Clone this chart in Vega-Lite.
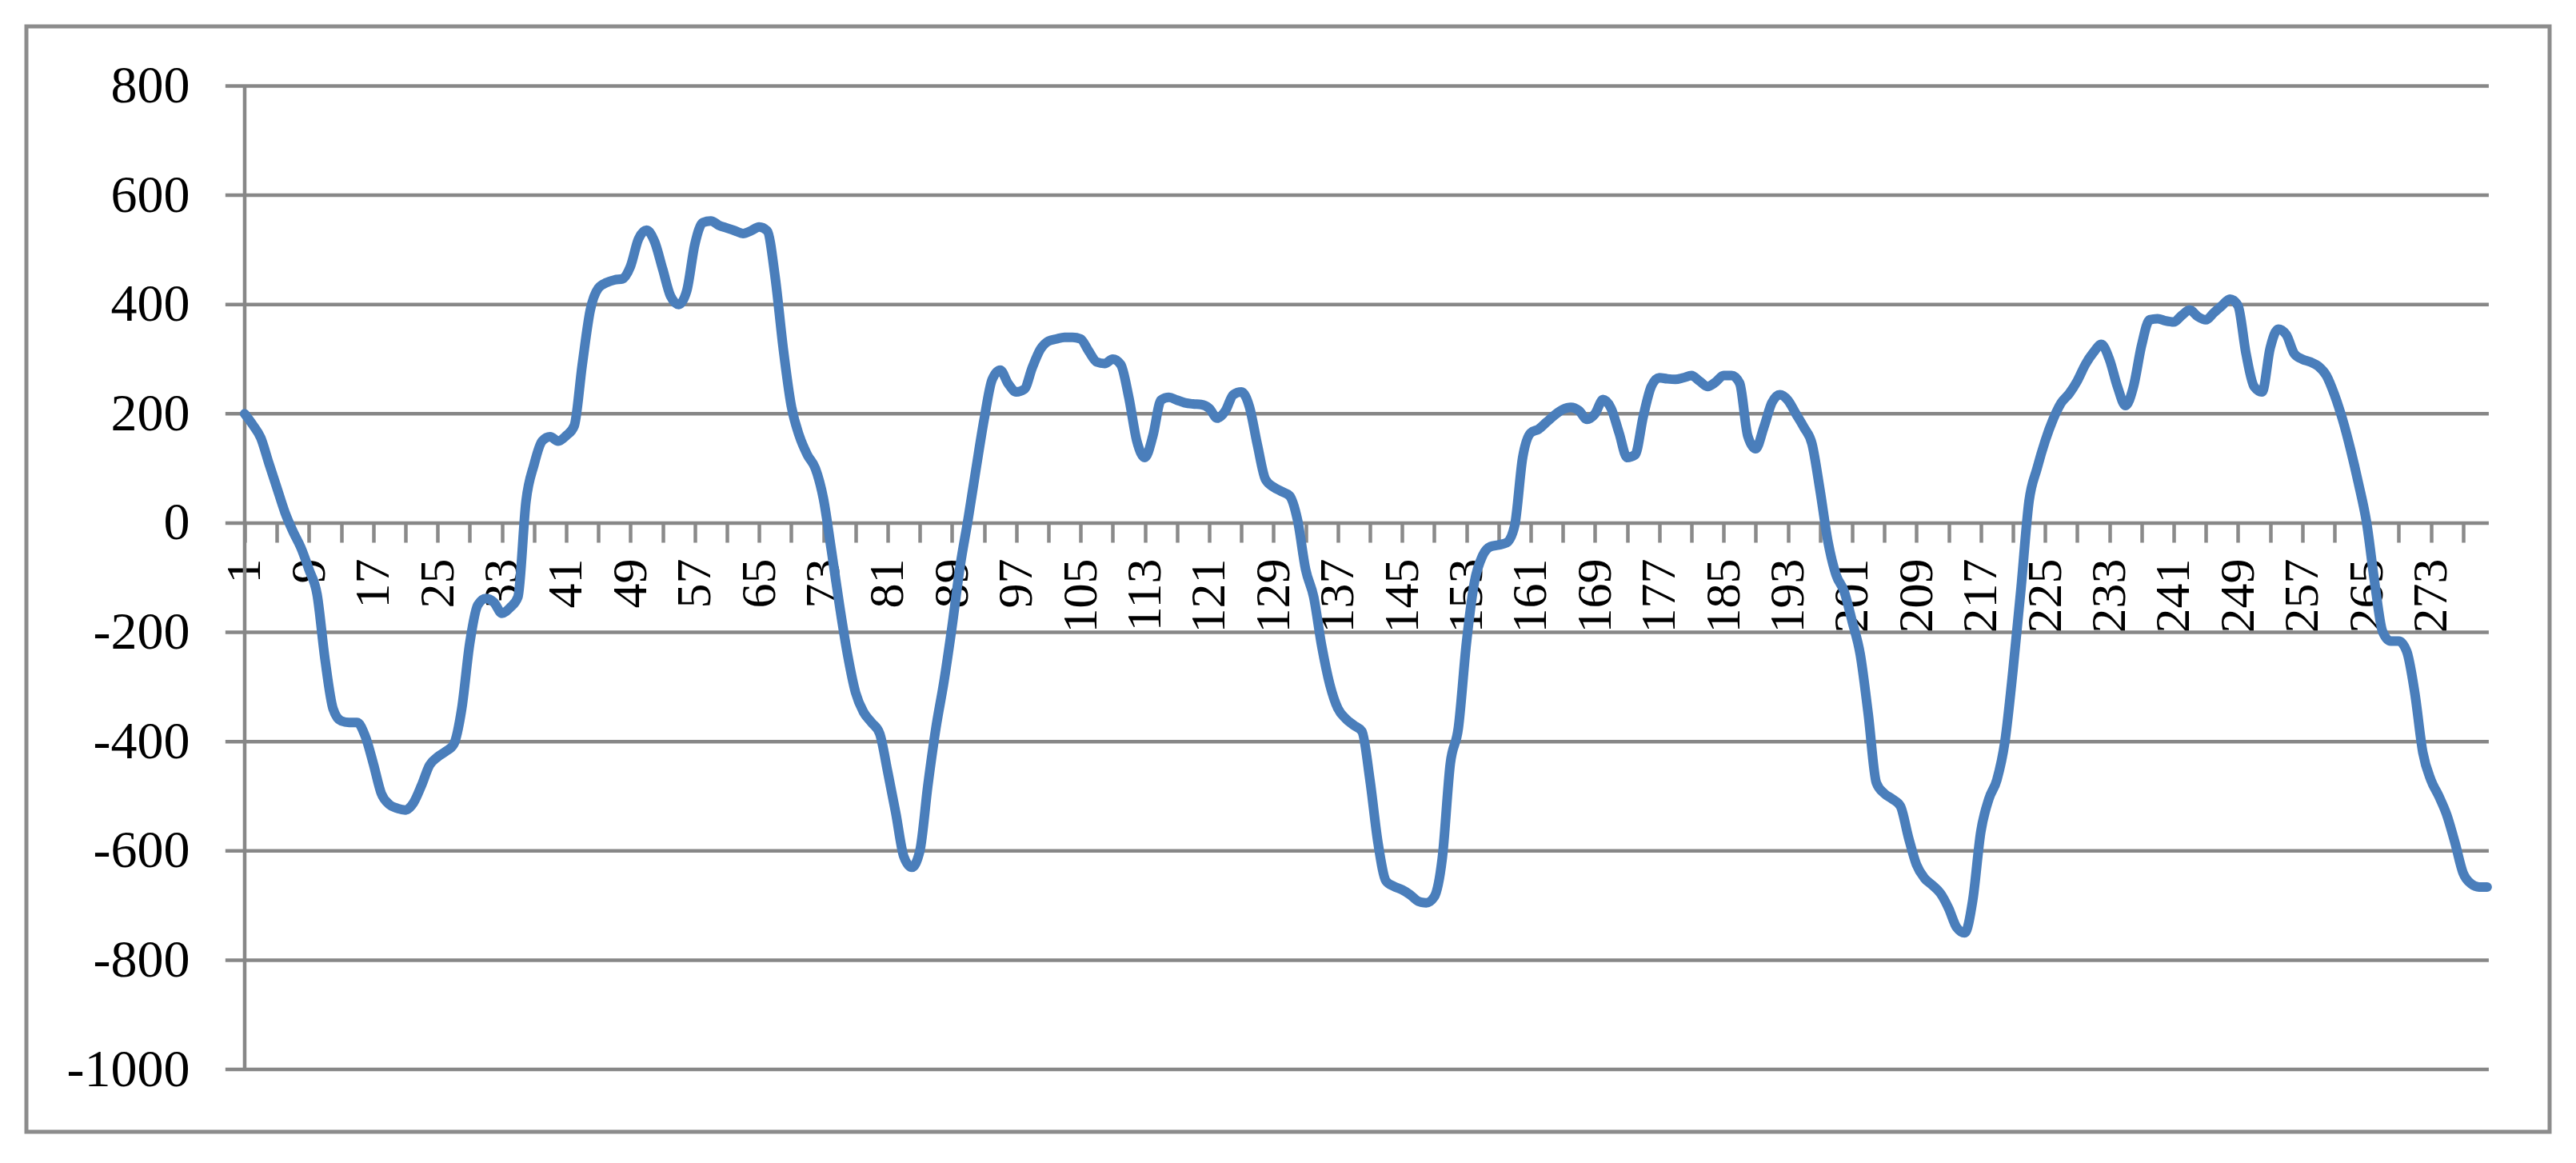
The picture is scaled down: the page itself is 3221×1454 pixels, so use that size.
{
  "$schema": "https://vega.github.io/schema/vega-lite/v6.json",
  "width": 3155,
  "height": 1382,
  "autosize": {"type": "none"},
  "padding": {"left": 33, "top": 33, "right": 33, "bottom": 39},
  "background": "white",
  "config": {
    "view": {"stroke": "#8c8c8c", "strokeWidth": 5},
    "font": "Liberation Serif"
  },
  "datasets": {
    "grid": [{"v": -1000}, {"v": -800}, {"v": -600}, {"v": -400}, {"v": -200}, {"v": 0}, {"v": 200}, {"v": 400}, {"v": 600}, {"v": 800}],
    "series": [
      {"i":1,"v":200},{"i":2,"v":180},{"i":3,"v":156},{"i":4,"v":110},{"i":5,"v":65},{"i":6,"v":20},{"i":7,"v":-15},{"i":8,"v":-45},{"i":9,"v":-85},{"i":10,"v":-130},
      {"i":11,"v":-250},{"i":12,"v":-340},{"i":13,"v":-362},{"i":14,"v":-365},{"i":15,"v":-365},{"i":16,"v":-390},{"i":17,"v":-440},{"i":18,"v":-495},{"i":19,"v":-515},{"i":20,"v":-522},
      {"i":21,"v":-525},{"i":22,"v":-512},{"i":23,"v":-480},{"i":24,"v":-443},{"i":25,"v":-428},{"i":26,"v":-418},{"i":27,"v":-405},{"i":28,"v":-340},{"i":29,"v":-220},{"i":30,"v":-150},
      {"i":31,"v":-138},{"i":32,"v":-145},{"i":33,"v":-165},{"i":34,"v":-155},{"i":35,"v":-135},{"i":36,"v":40},{"i":37,"v":107},{"i":38,"v":150},{"i":39,"v":158},{"i":40,"v":150},
      {"i":41,"v":160},{"i":42,"v":178},{"i":43,"v":290},{"i":44,"v":390},{"i":45,"v":430},{"i":46,"v":440},{"i":47,"v":445},{"i":48,"v":447},{"i":49,"v":470},{"i":50,"v":520},
      {"i":51,"v":536},{"i":52,"v":515},{"i":53,"v":465},{"i":54,"v":415},{"i":55,"v":400},{"i":56,"v":425},{"i":57,"v":510},{"i":58,"v":550},{"i":59,"v":553},{"i":60,"v":545},
      {"i":61,"v":540},{"i":62,"v":535},{"i":63,"v":530},{"i":64,"v":535},{"i":65,"v":542},{"i":66,"v":535},{"i":67,"v":450},{"i":68,"v":320},{"i":69,"v":215},{"i":70,"v":160},
      {"i":71,"v":125},{"i":72,"v":100},{"i":73,"v":45},{"i":74,"v":-50},{"i":75,"v":-150},{"i":76,"v":-240},{"i":77,"v":-310},{"i":78,"v":-346},{"i":79,"v":-365},{"i":80,"v":-385},
      {"i":81,"v":-455},{"i":82,"v":-530},{"i":83,"v":-610},{"i":84,"v":-630},{"i":85,"v":-600},{"i":86,"v":-480},{"i":87,"v":-375},{"i":88,"v":-290},{"i":89,"v":-190},{"i":90,"v":-80},
      {"i":91,"v":7},{"i":92,"v":100},{"i":93,"v":190},{"i":94,"v":263},{"i":95,"v":280},{"i":96,"v":255},{"i":97,"v":240},{"i":98,"v":245},{"i":99,"v":285},{"i":100,"v":318},
      {"i":101,"v":333},{"i":102,"v":337},{"i":103,"v":340},{"i":104,"v":340},{"i":105,"v":337},{"i":106,"v":315},{"i":107,"v":295},{"i":108,"v":292},{"i":109,"v":300},{"i":110,"v":290},
      {"i":111,"v":230},{"i":112,"v":150},{"i":113,"v":120},{"i":114,"v":160},{"i":115,"v":225},{"i":116,"v":230},{"i":117,"v":225},{"i":118,"v":220},{"i":119,"v":218},{"i":120,"v":217},
      {"i":121,"v":210},{"i":122,"v":192},{"i":123,"v":205},{"i":124,"v":235},{"i":125,"v":240},{"i":126,"v":213},{"i":127,"v":143},{"i":128,"v":80},{"i":129,"v":66},{"i":130,"v":58},
      {"i":131,"v":50},{"i":132,"v":5},{"i":133,"v":-85},{"i":134,"v":-135},{"i":135,"v":-225},{"i":136,"v":-295},{"i":137,"v":-339},{"i":138,"v":-358},{"i":139,"v":-370},{"i":140,"v":-381},
      {"i":141,"v":-470},{"i":142,"v":-585},{"i":143,"v":-655},{"i":144,"v":-665},{"i":145,"v":-671},{"i":146,"v":-680},{"i":147,"v":-692},{"i":148,"v":-695},{"i":149,"v":-684},{"i":150,"v":-613},
      {"i":151,"v":-440},{"i":152,"v":-375},{"i":153,"v":-220},{"i":154,"v":-108},{"i":155,"v":-60},{"i":156,"v":-43},{"i":157,"v":-40},{"i":158,"v":-36},{"i":159,"v":-5},{"i":160,"v":120},
      {"i":161,"v":165},{"i":162,"v":172},{"i":163,"v":185},{"i":164,"v":198},{"i":165,"v":208},{"i":166,"v":212},{"i":167,"v":206},{"i":168,"v":190},{"i":169,"v":200},{"i":170,"v":226},
      {"i":171,"v":210},{"i":172,"v":165},{"i":173,"v":120},{"i":174,"v":125},{"i":175,"v":195},{"i":176,"v":250},{"i":177,"v":266},{"i":178,"v":264},{"i":179,"v":263},{"i":180,"v":266},
      {"i":181,"v":270},{"i":182,"v":260},{"i":183,"v":250},{"i":184,"v":258},{"i":185,"v":270},{"i":186,"v":270},{"i":187,"v":256},{"i":188,"v":160},{"i":189,"v":136},{"i":190,"v":175},
      {"i":191,"v":220},{"i":192,"v":235},{"i":193,"v":225},{"i":194,"v":200},{"i":195,"v":175},{"i":196,"v":145},{"i":197,"v":60},{"i":198,"v":-35},{"i":199,"v":-95},{"i":200,"v":-125},
      {"i":201,"v":-180},{"i":202,"v":-240},{"i":203,"v":-350},{"i":204,"v":-475},{"i":205,"v":-495},{"i":206,"v":-505},{"i":207,"v":-518},{"i":208,"v":-575},{"i":209,"v":-625},{"i":210,"v":-650},
      {"i":211,"v":-663},{"i":212,"v":-678},{"i":213,"v":-705},{"i":214,"v":-740},{"i":215,"v":-750},{"i":216,"v":-690},{"i":217,"v":-565},{"i":218,"v":-505},{"i":219,"v":-470},{"i":220,"v":-400},
      {"i":221,"v":-270},{"i":222,"v":-120},{"i":223,"v":40},{"i":224,"v":100},{"i":225,"v":150},{"i":226,"v":190},{"i":227,"v":220},{"i":228,"v":237},{"i":229,"v":260},{"i":230,"v":290},
      {"i":231,"v":312},{"i":232,"v":327},{"i":233,"v":300},{"i":234,"v":250},{"i":235,"v":215},{"i":236,"v":250},{"i":237,"v":325},{"i":238,"v":372},{"i":239,"v":374},{"i":240,"v":370},
      {"i":241,"v":368},{"i":242,"v":380},{"i":243,"v":390},{"i":244,"v":378},{"i":245,"v":372},{"i":246,"v":385},{"i":247,"v":398},{"i":248,"v":410},{"i":249,"v":398},{"i":250,"v":310},
      {"i":251,"v":250},{"i":252,"v":240},{"i":253,"v":320},{"i":254,"v":355},{"i":255,"v":345},{"i":256,"v":310},{"i":257,"v":300},{"i":258,"v":295},{"i":259,"v":287},{"i":260,"v":270},
      {"i":261,"v":235},{"i":262,"v":190},{"i":263,"v":135},{"i":264,"v":72},{"i":265,"v":1},{"i":266,"v":-108},{"i":267,"v":-199},{"i":268,"v":-216},{"i":269,"v":-216},{"i":270,"v":-235},
      {"i":271,"v":-311},{"i":272,"v":-420},{"i":273,"v":-470},{"i":274,"v":-500},{"i":275,"v":-535},{"i":276,"v":-585},{"i":277,"v":-640},{"i":278,"v":-660},{"i":279,"v":-666},{"i":280,"v":-666}
    ]
  },
  "layer": [
    {
      "data": {"name": "grid"},
      "mark": {"type": "rule", "color": "#878787", "strokeWidth": 4.5},
      "encoding": {
        "y": {
          "field": "v", "type": "quantitative",
          "scale": {"domain": [-1114, 909], "nice": false, "zero": false},
          "axis": {
            "orient": "left", "offset": -273, "title": null,
            "values": [-1000, -800, -600, -400, -200, 0, 200, 400, 600, 800],
            "labelExpr": "'' + datum.value",
            "labelFont": "Liberation Serif", "labelFontSize": 66, "labelColor": "#000000",
            "labelPadding": 69, "labelOverlap": false, "labelFlush": false,
            "ticks": false, "tickSize": 0, "domain": false, "grid": false
          }
        },
        "x": {
          "datum": -1.4, "type": "quantitative",
          "scale": {"domain": [-26.16, 287.77], "nice": false, "zero": false},
          "axis": {
            "orient": "bottom", "offset": -761, "title": null,
            "values": [1,2,3,4,5,6,7,8,9,10,11,12,13,14,15,16,17,18,19,20,21,22,23,24,25,26,27,28,29,30,31,32,33,34,35,36,37,38,39,40,41,42,43,44,45,46,47,48,49,50,51,52,53,54,55,56,57,58,59,60,61,62,63,64,65,66,67,68,69,70,71,72,73,74,75,76,77,78,79,80,81,82,83,84,85,86,87,88,89,90,91,92,93,94,95,96,97,98,99,100,101,102,103,104,105,106,107,108,109,110,111,112,113,114,115,116,117,118,119,120,121,122,123,124,125,126,127,128,129,130,131,132,133,134,135,136,137,138,139,140,141,142,143,144,145,146,147,148,149,150,151,152,153,154,155,156,157,158,159,160,161,162,163,164,165,166,167,168,169,170,171,172,173,174,175,176,177,178,179,180,181,182,183,184,185,186,187,188,189,190,191,192,193,194,195,196,197,198,199,200,201,202,203,204,205,206,207,208,209,210,211,212,213,214,215,216,217,218,219,220,221,222,223,224,225,226,227,228,229,230,231,232,233,234,235,236,237,238,239,240,241,242,243,244,245,246,247,248,249,250,251,252,253,254,255,256,257,258,259,260,261,262,263,264,265,266,267,268,269,270,271,272,273,274,275,276,277,278,279,280],
            "labelExpr": "(datum.value - 1) % 8 == 0 ? '' + datum.value : ''",
            "labelAngle": -90, "labelAlign": "right", "labelBaseline": "middle",
            "labelFont": "Liberation Serif", "labelFontSize": 62, "labelColor": "#000000",
            "labelPadding": 20, "labelOverlap": false, "labelFlush": false,
            "tickSize": 24, "tickColor": "#8a8a8a", "tickWidth": 4.5,
            "domain": false, "grid": false
          }
        },
        "x2": {"datum": 280.2}
      }
    },
    {
      "data": {"values": [{"k": 1}]},
      "mark": {"type": "rule", "color": "#878787", "strokeWidth": 4.5},
      "encoding": {
        "x": {"datum": 1, "type": "quantitative"},
        "y": {"datum": -1000, "type": "quantitative"},
        "y2": {"datum": 800}
      }
    },
    {
      "data": {"name": "series"},
      "mark": {"type": "line", "color": "#4A7EBB", "strokeWidth": 12, "interpolate": "monotone", "strokeCap": "round", "strokeJoin": "round"},
      "encoding": {
        "x": {"field": "i", "type": "quantitative"},
        "y": {"field": "v", "type": "quantitative"}
      }
    }
  ]
}
